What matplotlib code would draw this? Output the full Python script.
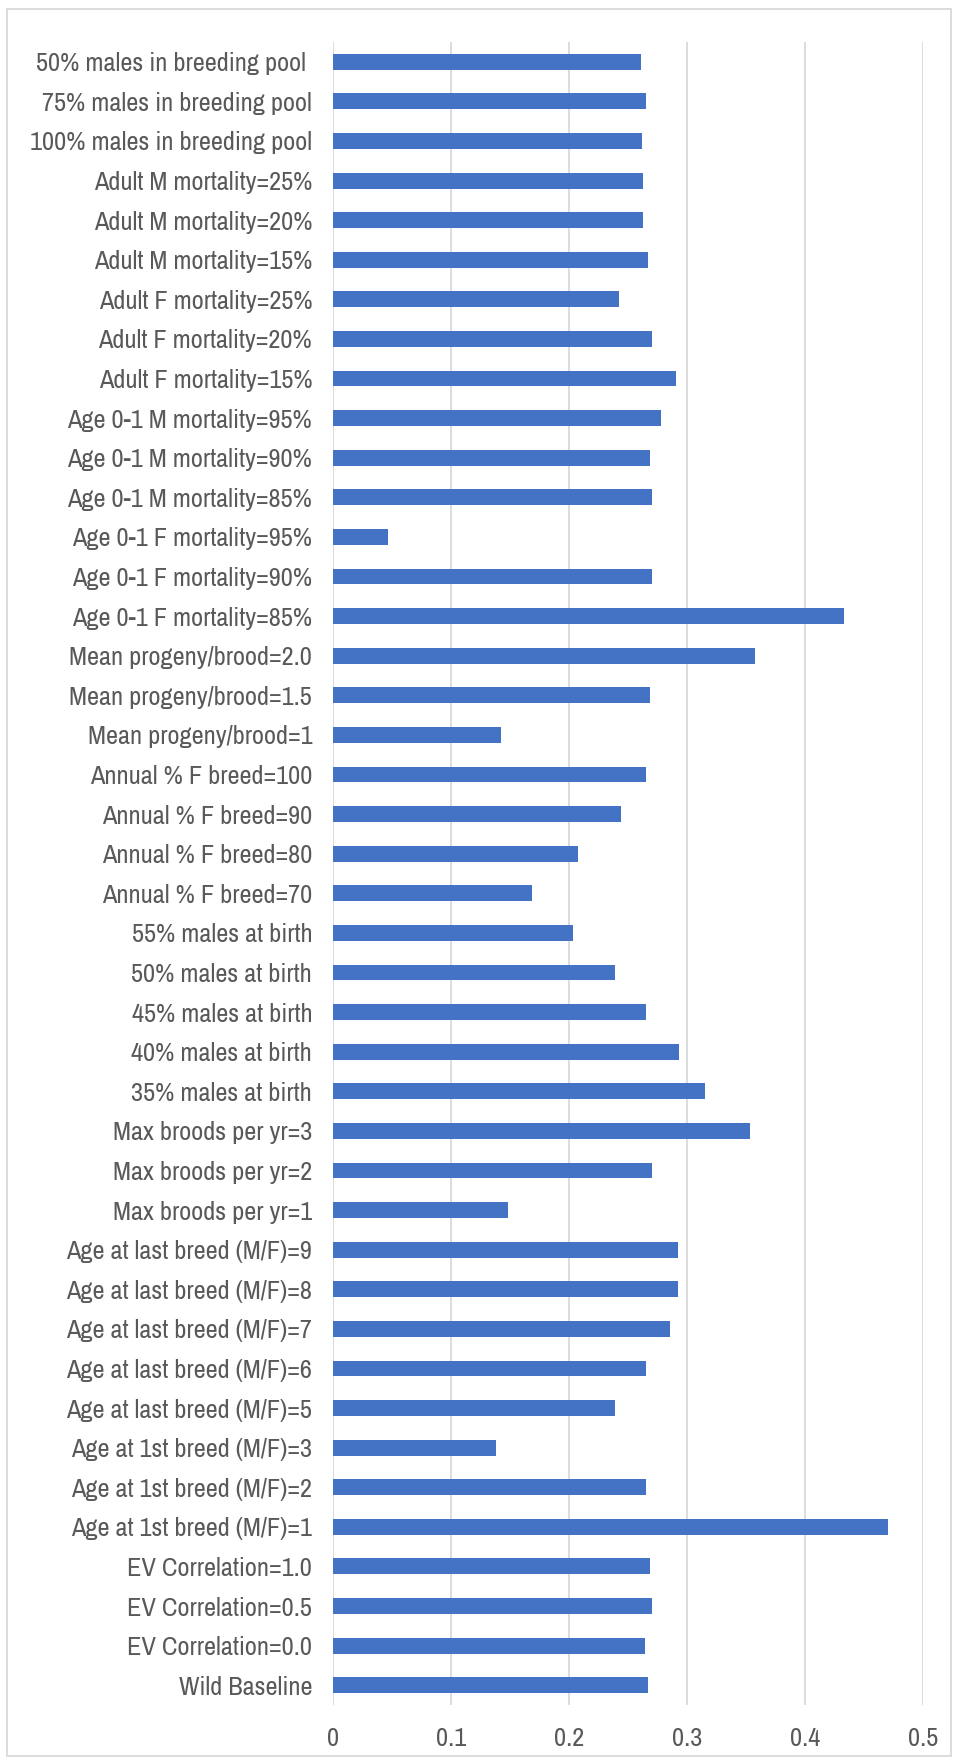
import matplotlib.pyplot as plt
from matplotlib import font_manager
from matplotlib.patches import Rectangle

# categories listed bottom-to-top, as in the source sheet
scenarios = [
    "Wild Baseline",
    "EV Correlation=0.0",
    "EV Correlation=0.5",
    "EV Correlation=1.0",
    "Age at 1st breed (M/F)=1",
    "Age at 1st breed (M/F)=2",
    "Age at 1st breed (M/F)=3",
    "Age at last breed (M/F)=5",
    "Age at last breed (M/F)=6",
    "Age at last breed (M/F)=7",
    "Age at last breed (M/F)=8",
    "Age at last breed (M/F)=9",
    "Max broods per yr=1",
    "Max broods per yr=2",
    "Max broods per yr=3",
    "35% males at birth",
    "40% males at birth",
    "45% males at birth",
    "50% males at birth",
    "55% males at birth",
    "Annual % F breed=70",
    "Annual % F breed=80",
    "Annual % F breed=90",
    "Annual % F breed=100",
    "Mean progeny/brood=1",
    "Mean progeny/brood=1.5",
    "Mean progeny/brood=2.0",
    "Age 0-1 F mortality=85%",
    "Age 0-1 F mortality=90%",
    "Age 0-1 F mortality=95%",
    "Age 0-1 M mortality=85%",
    "Age 0-1 M mortality=90%",
    "Age 0-1 M mortality=95%",
    "Adult F mortality=15%",
    "Adult F mortality=20%",
    "Adult F mortality=25%",
    "Adult M mortality=15%",
    "Adult M mortality=20%",
    "Adult M mortality=25%",
    "100% males in breeding pool",
    "75% males in breeding pool",
    "50% males in breeding pool ",
]
values = [
    0.267, 0.264, 0.270, 0.269,
    0.470, 0.265, 0.138,
    0.239, 0.265, 0.286, 0.292, 0.292,
    0.148, 0.270, 0.353,
    0.315, 0.293, 0.265, 0.239, 0.203,
    0.169, 0.208, 0.244, 0.265,
    0.142, 0.269, 0.358,
    0.433, 0.270, 0.047,
    0.270, 0.269, 0.278,
    0.291, 0.270, 0.242,
    0.267, 0.263, 0.263,
    0.262, 0.265, 0.261,
]
xticks = [0, 0.1, 0.2, 0.3, 0.4, 0.5]

# look for an upright narrow face (closest to Calibri's look); else DejaVu
narrow = None
for f in font_manager.fontManager.ttflist:
    if ("Narrow" in f.name or "Condensed" in f.name) and f.style == "normal" \
            and f.weight in (400, "normal", "regular"):
        narrow = f
        break
if narrow is not None:
    prop = dict(fontproperties=font_manager.FontProperties(fname=narrow.fname, size=19))
else:
    prop = dict(family="DejaVu Sans", fontsize=14)
txt = "#595959"

W, H = 957, 1760
fig = plt.figure(figsize=(W / 100, H / 100), dpi=100)
ax = fig.add_axes([333 / W, 1 - 1705 / H, (923 - 333) / W, (1705 - 42) / H])

ypos = list(range(len(scenarios)))
ax.barh(ypos, values, height=0.4, color="#4472C4", zorder=3)
ax.set_ylim(-0.5, len(scenarios) - 0.5)
ax.set_xlim(0, 0.5)
ax.set_xticks(xticks)
ax.set_xticklabels([f"{t:g}" for t in xticks], color=txt, **prop)
ax.set_yticks(ypos)
ax.set_yticklabels(scenarios, color=txt, **prop)
ax.tick_params(length=0)
ax.tick_params(axis="y", pad=15)
ax.tick_params(axis="x", pad=16)
ax.grid(axis="x", color="#d9d9d9", lw=1.3, zorder=0)
for s in ax.spines.values():
    s.set_visible(False)

# chart area frame
fig.patches.append(Rectangle((7 / W, 1 - 1756 / H), (951 - 7) / W, (1756 - 9) / H,
                             transform=fig.transFigure, fill=False,
                             edgecolor="#d9d9d9", lw=1.3))

fig.savefig("out.png", dpi=100)
